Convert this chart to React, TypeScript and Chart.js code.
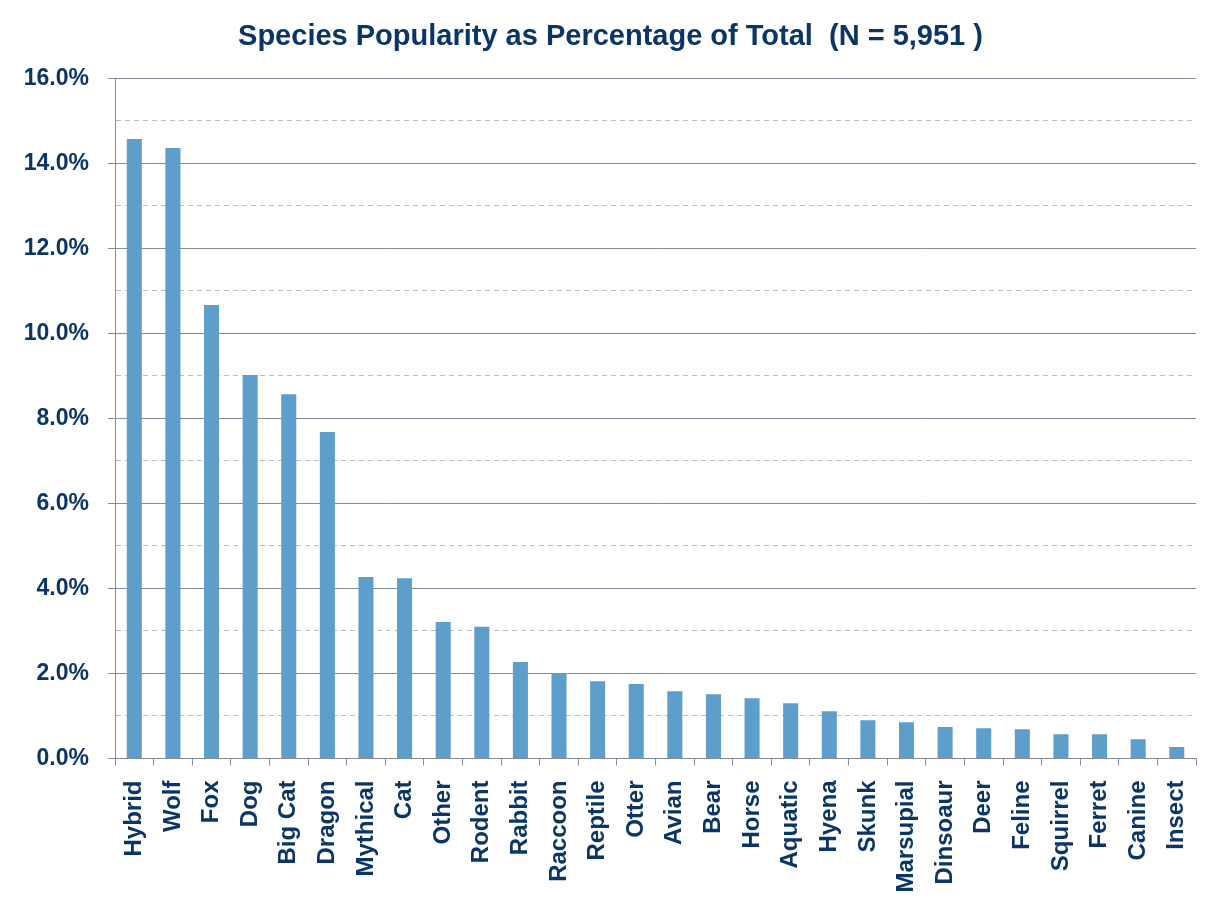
import React, { useEffect, useRef } from "react";
import { Chart, registerables } from "chart.js";

Chart.register(...registerables);

const categories = [
  "Hybrid", "Wolf", "Fox", "Dog", "Big Cat", "Dragon", "Mythical", "Cat", "Other",
  "Rodent", "Rabbit", "Raccoon", "Reptile", "Otter", "Avian", "Bear", "Horse",
  "Aquatic", "Hyena", "Skunk", "Marsupial", "Dinsoaur", "Deer", "Feline",
  "Squirrel", "Ferret", "Canine", "Insect",
];

const percentValues = [
  14.57, 14.36, 10.67, 9.02, 8.57, 7.68, 4.27, 4.24, 3.21, 3.10, 2.27, 1.99,
  1.82, 1.75, 1.58, 1.51, 1.42, 1.30, 1.11, 0.90, 0.85, 0.74, 0.71, 0.69,
  0.57, 0.57, 0.45, 0.27,
];

const titleText = "Species Popularity as Percentage of Total  (N = 5,951 )";

const TEXT = "#0a3566";
const BAR = "#5e9eca";
const MAJOR = "#878a9a";
const MINOR = "#bcbcc6";

export default function App() {
  const ref = useRef<HTMLCanvasElement | null>(null);

  useEffect(() => {
    if (!ref.current) return;
    const chart = new Chart(ref.current, {
      type: "bar",
      data: {
        labels: categories,
        datasets: [
          {
            data: percentValues,
            backgroundColor: BAR,
            borderWidth: 0,
            barPercentage: 0.39,
            categoryPercentage: 1,
          },
        ],
      },
      options: {
        animation: false,
        responsive: true,
        maintainAspectRatio: false,
        layout: { padding: { left: 24, right: 24, top: 0, bottom: 0 } },
        plugins: {
          legend: { display: false },
          tooltip: { enabled: false },
          title: {
            display: true,
            text: titleText,
            color: TEXT,
            font: { family: "'Liberation Sans', Arial, sans-serif", size: 29, weight: "bold", lineHeight: 1.2 },
            padding: { top: 20, bottom: 23.5 },
          },
        },
        scales: {
          x: {
            offset: true,
            grid: {
              offset: true,
              drawOnChartArea: false,
              drawTicks: true,
              tickLength: 7,
              color: MAJOR,
              tickColor: MAJOR,
              lineWidth: 1,
            },
            border: { display: true, color: MAJOR, width: 1 },
            ticks: {
              autoSkip: false,
              minRotation: 90,
              maxRotation: 90,
              padding: 15,
              color: TEXT,
              font: { family: "'Liberation Sans', Arial, sans-serif", size: 24, weight: "bold" },
            },
            afterFit: (scale: any) => {
              scale.height = 161.5;
            },
          },
          y: {
            min: 0,
            max: 16,
            grid: {
              drawTicks: true,
              tickLength: 7,
              lineWidth: 1,
              color: (ctx: any) => (ctx.tick && Math.round(ctx.tick.value) % 2 === 1 ? MINOR : MAJOR),
              tickColor: (ctx: any) => (ctx.tick && Math.round(ctx.tick.value) % 2 === 1 ? "rgba(0,0,0,0)" : MAJOR),
            },
            border: {
              display: true,
              color: MAJOR,
              width: 1,
              dash: (ctx: any) =>
                ctx.type === "tick" && ctx.tick && Math.round(ctx.tick.value) % 2 === 1 ? [5, 4] : [],
            },
            ticks: {
              stepSize: 1,
              maxTicksLimit: 20,
              autoSkip: false,
              padding: 19,
              color: TEXT,
              font: { family: "'Liberation Sans', Arial, sans-serif", size: 23, weight: "bold" },
              callback: (v: any) => (Math.round(Number(v)) % 2 === 0 ? Number(v).toFixed(1) + "%" : ""),
            },
            afterFit: (scale: any) => {
              scale.width = 91;
            },
          },
        },
      },
    });
    return () => chart.destroy();
  }, []);

  return (
    <div style={{ position: "fixed", left: 0, top: 0, width: 1221, height: 920, background: "#fff" }}>
      <canvas ref={ref} />
    </div>
  );
}
